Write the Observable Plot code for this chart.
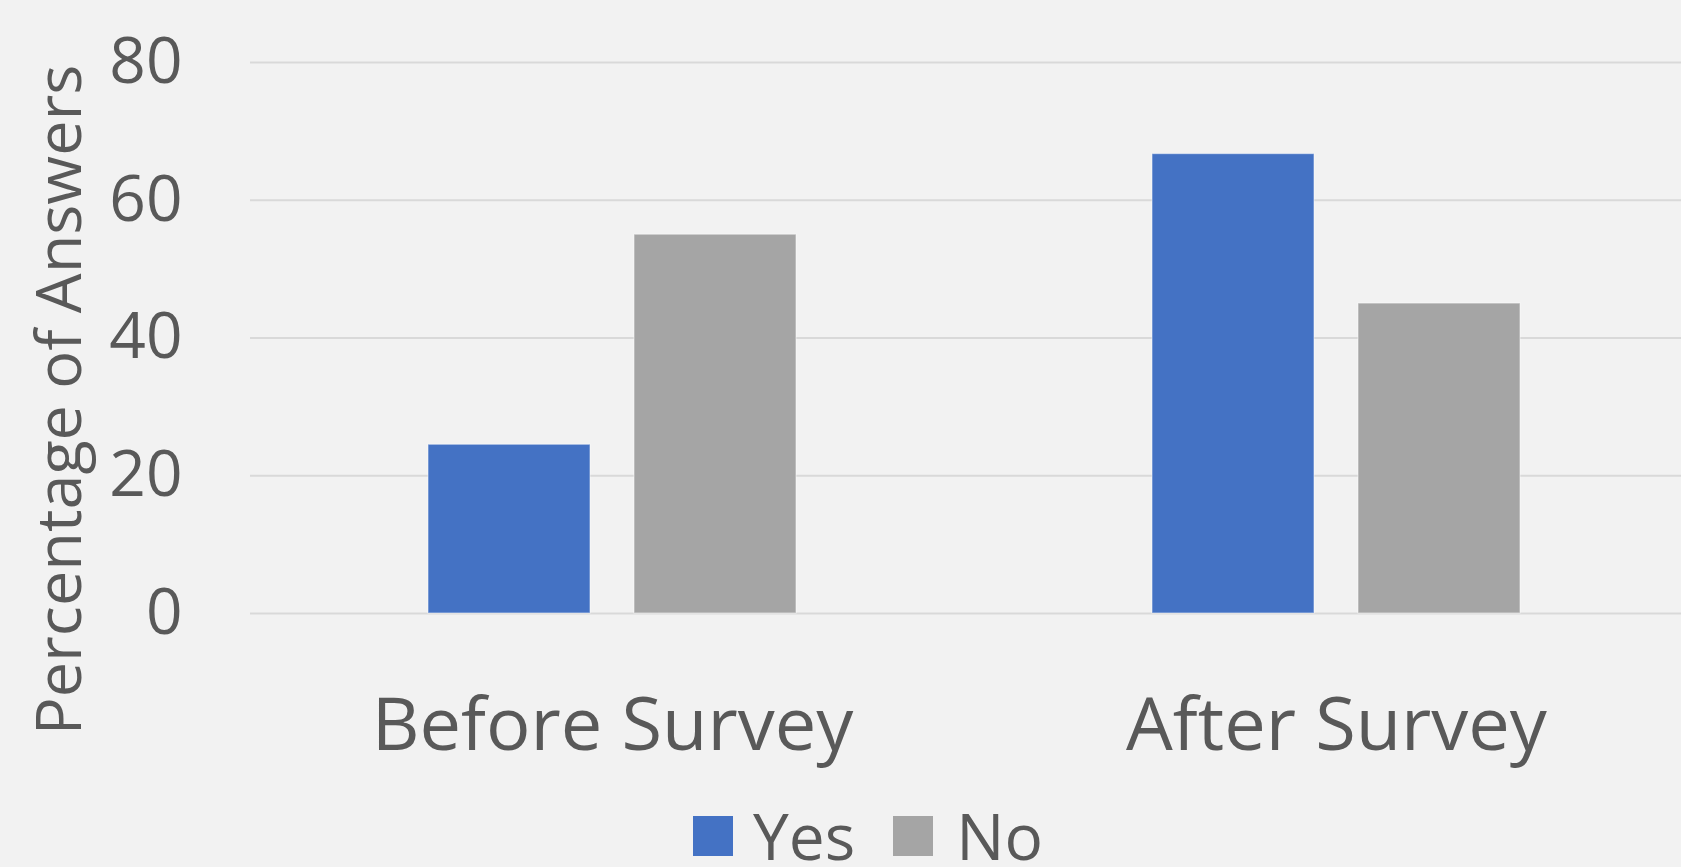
<!DOCTYPE html>
<html>
<head>
<meta charset="utf-8">
<script src="https://cdn.jsdelivr.net/npm/d3@7"></script>
<script src="https://cdn.jsdelivr.net/npm/@observablehq/plot@0.6"></script>
<style>
  html, body { margin: 0; padding: 0; background: #f2f2f2; overflow: hidden; }
  #wrap { position: relative; width: 1681px; height: 867px; overflow: hidden; font-family: "Open Sans", sans-serif; color: #595959; }
  #chart { position: absolute; left: 0; top: 0; width: 1698px; }
  #chart svg { max-width: none; }
  #legend { position: absolute; left: 693px; top: 808px; display: flex; align-items: center; height: 56px; }
  .item { display: flex; align-items: center; font-size: 64px; line-height: 56px; height: 56px; }
  .swatch { width: 40px; height: 40px; margin-right: 20px; }
</style>
</head>
<body>
<div id="wrap">
  <div id="chart"></div>
  <div id="legend"></div>
</div>
<script>
// Survey phases and answer options
const phases = ["Before Survey", "After Survey"];
const answers = ["Yes", "No"];
const yesValues = [24.5, 66.7];
const noValues = [55.0, 45.0];
const yTicks = [0, 20, 40, 60, 80];
const colors = ["#4472c4", "#a5a5a5"];
const yTitle = "Percentage of Answers";

const rows = [];
phases.forEach((p, i) => {
  rows.push({phase: p, answer: answers[0], value: yesValues[i]});
  rows.push({phase: p, answer: answers[1], value: noValues[i]});
});

const textColor = "#595959";

const chart = Plot.plot({
  width: 1698,
  height: 800,
  marginLeft: 250,
  marginRight: 0,
  marginTop: 62,
  marginBottom: 187,
  style: {background: "transparent", fontFamily: "'Open Sans', sans-serif", color: textColor, maxWidth: "none"},
  fx: {domain: phases, padding: 0, label: null},
  x: {domain: answers, paddingInner: 0.212, paddingOuter: 0.861, axis: null},
  y: {domain: [0, 80], label: null},
  color: {domain: answers, range: colors},
  marks: [
    Plot.ruleY(yTicks, {stroke: "#d9d9d9", strokeWidth: 2}),
    Plot.barY(rows, {
      fx: "phase",
      x: "answer",
      y: "value",
      fill: "answer",
      stroke: "#ffffff",
      strokeOpacity: 0.45,
      strokeWidth: 1.2
    }),
    Plot.axisY(yTicks, {
      tickSize: 0,
      tickPadding: 68,
      fontSize: 64,
      fill: textColor,
      label: null
    }),
    Plot.axisFx({
      anchor: "bottom",
      tickSize: 0,
      tickPadding: 84,
      fontSize: 74,
      fill: textColor,
      label: null
    }),
    Plot.text([yTitle], {
      frameAnchor: "left",
      facet: "super",
      rotate: -90,
      dx: -190,
      dy: 62,
      fontSize: 63,
      fill: textColor,
      textAnchor: "middle",
      lineAnchor: "middle"
    })
  ]
});
document.getElementById("chart").appendChild(chart);

// Legend
const legend = document.getElementById("legend");
answers.forEach((a, i) => {
  const item = document.createElement("div");
  item.className = "item";
  if (i > 0) item.style.marginLeft = "38px";
  const sw = document.createElement("div");
  sw.className = "swatch";
  sw.style.background = colors[i];
  if (i > 0) sw.style.marginRight = "23px";
  const label = document.createElement("span");
  label.textContent = a;
  item.appendChild(sw);
  item.appendChild(label);
  legend.appendChild(item);
});
</script>
</body>
</html>
